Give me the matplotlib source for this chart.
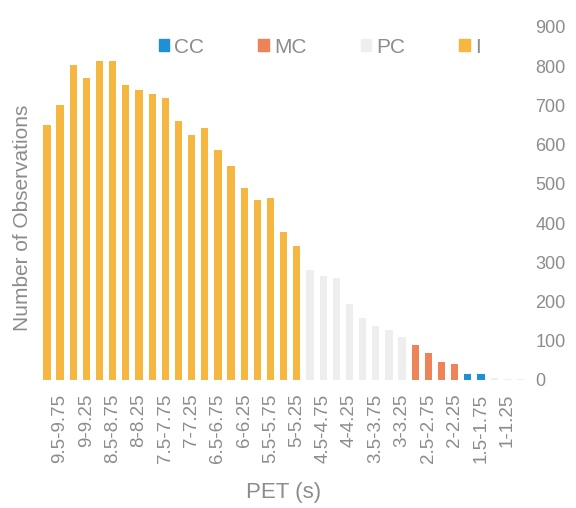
import matplotlib
matplotlib.use("Agg")
import matplotlib.pyplot as plt
from matplotlib.patches import Patch

# ==============================
#  DONNÉES
# ==============================
categories = [
    "9.75-10", "9.5-9.75", "9.25-9.5", "9-9.25", "8.75-9", "8.5-8.75",
    "8.25-8.5", "8-8.25", "7.75-8", "7.5-7.75", "7.25-7.5", "7-7.25",
    "6.75-7", "6.5-6.75", "6.25-6.5", "6-6.25", "5.75-6", "5.5-5.75",
    "5.25-5.5", "5-5.25", "4.75-5", "4.5-4.75", "4.25-4.5", "4-4.25",
    "3.75-4", "3.5-3.75", "3.25-3.5", "3-3.25", "2.75-3", "2.5-2.75",
    "2.25-2.5", "2-2.25", "1.75-2", "1.5-1.75", "1.25-1.5", "1-1.25",
    "0.75-1",
]
counts = [
    650, 700, 803, 770, 813, 813, 752, 740, 730, 720,
    660, 625, 643, 587, 546, 490, 459, 464, 378, 342,
    281, 266, 260, 193, 159, 138, 127, 110,
    90, 69, 46, 41,
    15, 15,
    4, 3, 2,
]
classes = (["I"] * 20) + (["PC"] * 8) + (["MC"] * 4) + (["CC"] * 2) + (["PC"] * 3)

legend_order = ["CC", "MC", "PC", "I"]
couleurs = {"CC": "#1f8fd6", "MC": "#ee8358", "PC": "#eeeeee", "I": "#f6b740"}
GRIS = "#8c8c8c"

plt.rcParams["font.family"] = ["Liberation Sans", "DejaVu Sans"]

fig = plt.figure(figsize=(5.76, 5.08), dpi=100)
ax = fig.add_axes([0.070, 0.252, 0.845, 0.695])

x = list(range(len(categories)))
ax.bar(x, counts, width=0.55, color=[couleurs[c] for c in classes], zorder=2)

ax.set_xlim(-0.5, len(categories) - 0.5)
ax.set_ylim(0, 900)
ax.set_yticks(range(0, 901, 100))
ax.yaxis.tick_right()
ax.tick_params(axis="y", length=0, pad=6, labelsize=13, labelcolor=GRIS)

ax.set_xticks(x[1::2])
ax.set_xticklabels(categories[1::2], rotation=90, fontsize=13.5, color=GRIS)
ax.tick_params(axis="x", length=0, pad=10)

for s in ax.spines.values():
    s.set_visible(False)

ax.set_xlabel("PET (s)", fontsize=16, color=GRIS)
ax.xaxis.set_label_coords(0.50, -0.290)
ax.set_ylabel("Number of Observations", fontsize=15, color=GRIS)
ax.yaxis.set_label_coords(-0.018, 0.46)

handles = [Patch(color=couleurs[c], label=c) for c in legend_order]
fig.legend(handles=handles, loc="center", bbox_to_anchor=(0.555, 0.907), ncol=4,
           frameon=False, fontsize=15, labelcolor=GRIS, handlelength=0.5,
           handleheight=0.5, handletextpad=0.25, columnspacing=2.6)

plt.savefig("out.png", dpi=100)
plt.close()
